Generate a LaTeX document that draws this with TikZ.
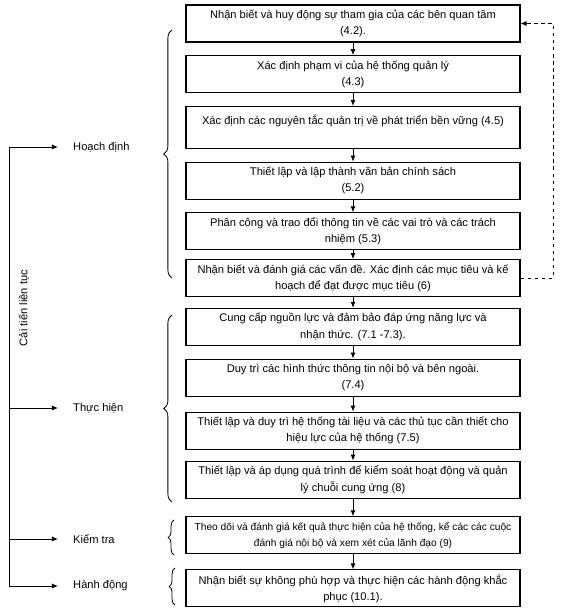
\documentclass[tikz,border=0pt]{standalone}
\usepackage{fontspec}
\setmainfont{Liberation Sans}
\usetikzlibrary{positioning, arrows.meta, decorations.pathreplacing, calc}

\begin{document}
\begin{tikzpicture}[x=0.03cm, y=-0.03cm, >={Latex[length=1.8mm, width=1.5mm]}, node distance=3.8mm,
  stepbox/.style={draw, line width=0.9pt, minimum width=10.02cm, minimum height=1.11cm, align=center, inner xsep=2pt, inner ysep=0.5pt, font=\fontsize{9.5}{13.8}\selectfont},
  phase/.style={anchor=west, inner sep=0pt, font=\fontsize{9.5}{11}\selectfont},
  flow/.style={->, line width=0.8pt},
  loopline/.style={->, line width=0.8pt, shorten >=4.5mm},
  grp/.style={decorate, decoration={brace, amplitude=#1}, line width=0.7pt},
  grp/.default=7pt,
  back/.style={->, dashed, line width=0.8pt}]

  \useasboundingbox (0,0) rectangle (565,613);

  % Planning steps
  \node[stepbox] (b1) at (353,23.5) {Nhận biết và huy động sự tham gia của các bên quan tâm\\(4.2).};
  \node[stepbox, below=of b1] (b2) {Xác định phạm vi của hệ thống quản lý\\(4.3)};
  \node[stepbox, minimum height=1.26cm, below=of b2] (b3) {Xác định các nguyên tắc quản trị về phát triển bền vững (4.5)\\\mbox{}};
  \node[stepbox, below=of b3] (b4) {Thiết lập và lập thành văn bản chính sách\\(5.2)};
  \node[stepbox, below=of b4] (b5) {Phân công và trao đổi thông tin về các vai trò và các trách\\nhiệm (5.3)};
  \node[stepbox, below=2.6mm of b5] (b6) {Nhận biết và đánh giá các vấn đề. Xác định các mục tiêu và kế\\hoạch để đạt được mục tiêu (6)};

  % Doing steps
  \node[stepbox, below=3.2mm of b6] (b7) {Cung cấp nguồn lực và đảm bảo đáp ứng năng lực và\\nhận thức. (7.1 -7.3).};
  \node[stepbox, below=of b7] (b8) {Duy trì các hình thức thông tin nội bộ và bên ngoài.\\(7.4)};
  \node[stepbox, below=4.5mm of b8] (b9) {Thiết lập và duy trì hệ thống tài liệu và các thủ tục cần thiết cho\\hiệu lực của hệ thống (7.5)};
  \node[stepbox, below=3.3mm of b9] (b10) {Thiết lập và áp dụng quá trình để kiểm soát hoạt động và quản\\lý chuỗi cung ứng (8)};

  % Checking and acting
  \node[stepbox, font=\fontsize{8.7}{13.8}\selectfont, below=5.3mm of b10] (b11) {Theo dõi và đánh giá kết quả thực hiện của hệ thống, kể các các cuộc\\đánh giá nội bộ và xem xét của lãnh đạo (9)};
  \node[stepbox, below=4.5mm of b11] (b12) {Nhận biết sự không phù hợp và thực hiện các hành động khắc\\phục (10.1).};

  \draw[flow] (b1) -- (b2);
  \draw[flow] (b2) -- (b3);
  \draw[flow] (b3) -- (b4);
  \draw[flow] (b4) -- (b5);
  \draw[flow] (b5) -- (b6);
  \draw[flow] (b6) -- (b7);
  \draw[flow] (b7) -- (b8);
  \draw[flow] (b8) -- (b9);
  \draw[flow] (b9) -- (b10);
  \draw[flow] (b10) -- (b11);
  \draw[flow] (b11) -- (b12);

  % feedback loop
  \coordinate (fb) at (553,23.5);
  \draw[back] (b6.east) -| (fb) -- (b1.east);

  % PDCA labels
  \node[phase] (plan) at (73,147) {Hoạch định};
  \node[phase] (do) at (73,408) {Thực hiện};
  \node[phase] (check) at (73,539) {Kiểm tra};
  \node[phase] (act) at (73,586) {Hành động};
  \node[rotate=90, font=\fontsize{9.5}{11}\selectfont] (improve) at (24,308) {Cải tiến liên tục};

  \coordinate (ltop) at (9,147);
  \coordinate (lbot) at (9,586);
  \draw[line width=0.8pt] (ltop) -- (lbot);
  \draw[loopline] (ltop) -- (plan);
  \draw[loopline] (ltop |- do) -- (do);
  \draw[loopline] (ltop |- check) -- (check);
  \draw[loopline] (lbot) -- (act);

  % braces
  \draw[grp] (172,278) -- (172,30);
  \draw[grp] (172,502) -- (172,315);
  \draw[grp=5pt] (174,555) -- (174,520);
  \draw[grp=5pt] (175,605) -- (175,568);

\end{tikzpicture}
\end{document}
